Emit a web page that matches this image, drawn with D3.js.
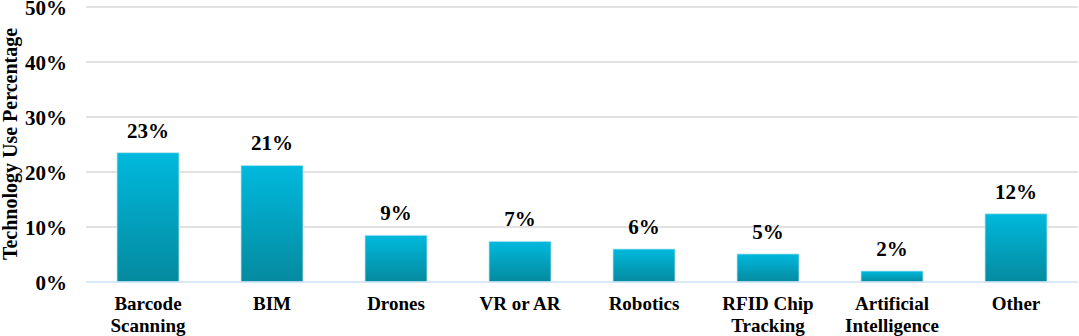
<!DOCTYPE html>
<html>
<head>
<meta charset="utf-8">
<script src="https://cdn.jsdelivr.net/npm/d3@7"></script>
<style>
  body { margin: 0; background: #fff; }
</style>
</head>
<body>
<svg id="chart"></svg>
<script>
const categories = ["Barcode Scanning", "BIM", "Drones", "VR or AR", "Robotics", "RFID Chip Tracking", "Artificial Intelligence", "Other"];
const values = [23.5, 21.2, 8.5, 7.4, 6.0, 5.1, 2.0, 12.4];
const valueLabels = ["23%", "21%", "9%", "7%", "6%", "5%", "2%", "12%"];
const yTicks = [0, 10, 20, 30, 40, 50];

const FONT = "'Liberation Serif'";

const width = 1079, height = 336;
const margin = { top: 7, right: 1, bottom: 54, left: 86 };
const innerW = width - margin.left - margin.right;
const innerH = height - margin.top - margin.bottom;

const svg = d3.select("#chart").attr("width", width).attr("height", height);

const defs = svg.append("defs");
const grad = defs.append("linearGradient")
  .attr("id", "barGrad")
  .attr("x1", 0).attr("y1", 0).attr("x2", 0).attr("y2", 1);
grad.append("stop").attr("offset", "0%").attr("stop-color", "#00b9dd");
grad.append("stop").attr("offset", "100%").attr("stop-color", "#058a9f");

const chart = svg.append("g").attr("transform", `translate(${margin.left},${margin.top})`);

const xScale = d3.scaleBand().domain(categories).range([0, innerW]).paddingInner(0.5).paddingOuter(0.25);
const yScale = d3.scaleLinear().domain([0, 50]).range([innerH, 0]);

// gridlines
chart.append("g")
  .selectAll("line")
  .data(yTicks.filter(d => d > 0))
  .join("line")
  .attr("x1", 0).attr("x2", innerW)
  .attr("y1", d => yScale(d)).attr("y2", d => yScale(d))
  .attr("stroke", "#d9d9d9").attr("stroke-width", 1.5);

// y axis labels
const yAxis = d3.axisLeft(yScale).tickValues(yTicks).tickFormat(d => d + "%").tickSize(0).tickPadding(19);
chart.append("g").call(yAxis)
  .call(g => g.select(".domain").remove())
  .selectAll("text")
  .style("font-family", FONT)
  .style("font-weight", "bold")
  .style("font-size", "21px")
  .attr("fill", "#000")
  .attr("dy", "0.35em");

// bars
chart.selectAll(".bar")
  .data(values)
  .join("rect")
  .attr("class", "bar")
  .attr("x", (d, i) => xScale(categories[i]))
  .attr("y", d => yScale(d))
  .attr("width", xScale.bandwidth())
  .attr("height", d => innerH - yScale(d))
  .attr("fill", "url(#barGrad)")
  .attr("stroke", "#bfe6f2").attr("stroke-width", 0.8);

// baseline
chart.append("line")
  .attr("x1", 0).attr("x2", innerW)
  .attr("y1", yScale(0)).attr("y2", yScale(0))
  .attr("stroke", "#cde2f4").attr("stroke-width", 1.5);

// value labels
chart.selectAll(".val")
  .data(values)
  .join("text")
  .attr("class", "val")
  .attr("x", (d, i) => xScale(categories[i]) + xScale.bandwidth() / 2)
  .attr("y", d => yScale(d) - 15)
  .attr("text-anchor", "middle")
  .style("font-family", FONT)
  .style("font-weight", "bold")
  .style("font-size", "21px")
  .text((d, i) => valueLabels[i]);

// category labels (wrapped to two lines)
const wrapLabel = name => {
  if (name === "RFID Chip Tracking") return ["RFID Chip", "Tracking"];
  if (name === "Barcode Scanning") return ["Barcode", "Scanning"];
  if (name === "Artificial Intelligence") return ["Artificial", "Intelligence"];
  return [name];
};

const xLabels = chart.append("g").attr("transform", `translate(0,${innerH})`);
categories.forEach(c => {
  const t = xLabels.append("text")
    .attr("x", xScale(c) + xScale.bandwidth() / 2)
    .attr("y", 28)
    .attr("text-anchor", "middle")
    .style("font-family", FONT)
    .style("font-weight", "bold")
    .style("font-size", "19px");
  wrapLabel(c).forEach((line, i) => {
    t.append("tspan")
      .attr("x", xScale(c) + xScale.bandwidth() / 2)
      .attr("dy", i === 0 ? 0 : 22)
      .text(line);
  });
});

// y axis title
svg.append("text")
  .attr("transform", `translate(17,144) rotate(-90)`)
  .attr("text-anchor", "middle")
  .style("font-family", FONT)
  .style("font-weight", "bold")
  .style("font-size", "20px")
  .text("Technology Use Percentage");
</script>
</body>
</html>
